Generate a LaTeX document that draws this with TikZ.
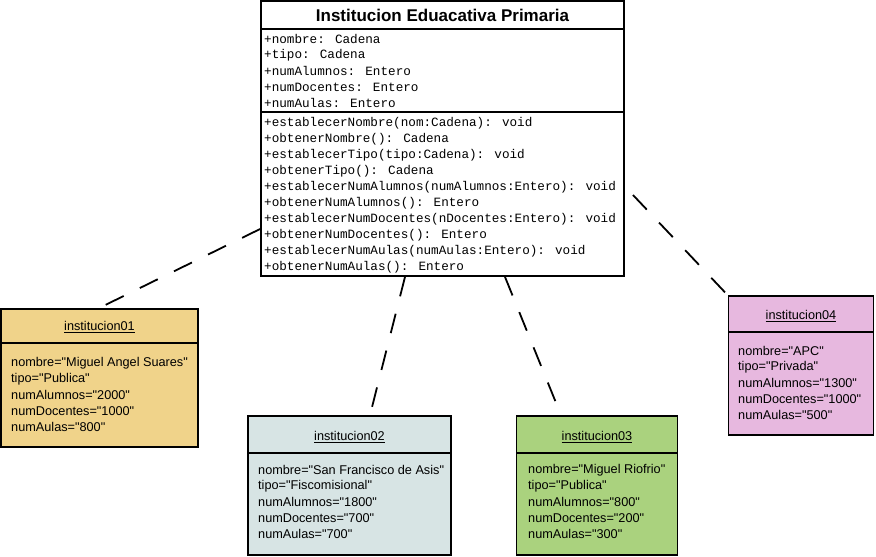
\documentclass[tikz,border=0pt]{standalone}
\usepackage{fontspec}
\setmainfont[Ligatures=NoCommon]{Liberation Sans}
\newfontfamily\monof{Liberation Mono}
\definecolor{cOne}{HTML}{F0D38A}
\definecolor{cTwo}{HTML}{D7E4E4}
\definecolor{cThree}{HTML}{AAD27E}
\definecolor{cFour}{HTML}{E7B8DF}
\begin{document}
\begin{tikzpicture}[x=1pt,y=-1pt,
  boxline/.style={line width=1.8pt},
  mono/.style={anchor=west,inner sep=0pt,font=\monof\fontsize{12.65}{14}\selectfont},
  attr/.style={anchor=west,inner sep=0pt,font=\fontsize{12.7}{14}\selectfont},
  objtitle/.style={inner sep=0pt,font=\fontsize{12.7}{14}\selectfont},
  link/.style={line width=1.8pt,dash pattern=on 20pt off 18pt}]
\useasboundingbox (0,0) rectangle (876,557);
% class
\node[draw,boxline,fill=white,minimum width=363pt,minimum height=275pt,inner sep=0pt] (cls) at (442.5,138.5) {};
\draw[line width=1.5pt] (261,29) -- (624,29);
\draw[line width=1.5pt] (261,112) -- (624,112);
\node[inner sep=0pt,font=\bfseries\fontsize{17}{19}\selectfont] (ttl) at (442.5,15) {Institucion Eduacativa Primaria};
\foreach \t [count=\i from 0] in {{+nombre: Cadena},{+tipo: Cadena},{+numAlumnos: Entero},{+numDocentes: Entero},{+numAulas: Entero}}
  \node[mono] (a\i) at (264,39+16*\i) {\t};
\foreach \t [count=\i from 0] in {{+establecerNombre(nom:Cadena): void},{+obtenerNombre(): Cadena},{+establecerTipo(tipo:Cadena): void},{+obtenerTipo(): Cadena},{+establecerNumAlumnos(numAlumnos:Entero): void},{+obtenerNumAlumnos(): Entero},{+establecerNumDocentes(nDocentes:Entero): void},{+obtenerNumDocentes(): Entero},{+establecerNumAulas(numAulas:Entero): void},{+obtenerNumAulas(): Entero}}
  \node[mono] (m\i) at (264,123+16*\i) {\t};
% inst01
\node[draw,boxline,fill=cOne,minimum width=197pt,minimum height=138pt,inner sep=0pt] (o1) at (99.5,378) {};
\draw[line width=1.5pt] (1,343) -- (198,343);
\node[objtitle] (o1t) at (99.5,327) {\underline{institucion01}};
\foreach \t [count=\i from 0] in {{nombre=\textquotedbl Miguel Angel Suares\textquotedbl},{tipo=\textquotedbl Publica\textquotedbl},{numAlumnos=\textquotedbl 2000\textquotedbl},{numDocentes=\textquotedbl 1000\textquotedbl},{numAulas=\textquotedbl 800\textquotedbl}}
  \node[attr] (o1a\i) at (11,363+16*\i) {\t};
% inst02
\node[draw,boxline,fill=cTwo,minimum width=203pt,minimum height=139pt,inner sep=0pt] (o2) at (349.5,485.5) {};
\draw[line width=1.5pt] (248,453) -- (451,453);
\node[objtitle] (o2t) at (349.5,437) {\underline{institucion02}};
\foreach \t [count=\i from 0] in {{nombre=\textquotedbl San Francisco de Asis\textquotedbl},{tipo=\textquotedbl Fiscomisional\textquotedbl},{numAlumnos=\textquotedbl 1800\textquotedbl},{numDocentes=\textquotedbl 700\textquotedbl},{numAulas=\textquotedbl 700\textquotedbl}}
  \node[attr] (o2a\i) at (258,470+16*\i) {\t};
% inst03
\node[draw,boxline,fill=cThree,minimum width=161pt,minimum height=139pt,inner sep=0pt] (o3) at (597,485.5) {};
\draw[line width=1.5pt] (516.5,453) -- (677.5,453);
\node[objtitle] (o3t) at (597,437) {\underline{institucion03}};
\foreach \t [count=\i from 0] in {{nombre=\textquotedbl Miguel Riofrio\textquotedbl},{tipo=\textquotedbl Publica\textquotedbl},{numAlumnos=\textquotedbl 800\textquotedbl},{numDocentes=\textquotedbl 200\textquotedbl},{numAulas=\textquotedbl 300\textquotedbl}}
  \node[attr] (o3a\i) at (528,470+16*\i) {\t};
% inst04
\node[draw,boxline,fill=cFour,minimum width=145pt,minimum height=139pt,inner sep=0pt] (o4) at (801,365.5) {};
\draw[line width=1.5pt] (728.5,332) -- (873.5,332);
\node[objtitle] (o4t) at (801,316) {\underline{institucion04}};
\foreach \t [count=\i from 0] in {{nombre=\textquotedbl APC\textquotedbl},{tipo=\textquotedbl Privada\textquotedbl},{numAlumnos=\textquotedbl 1300\textquotedbl},{numDocentes=\textquotedbl 1000\textquotedbl},{numAulas=\textquotedbl 500\textquotedbl}}
  \node[attr] (o4a\i) at (738,351+16*\i) {\t};
% links
\coordinate (c4) at (633,195);
\draw[link] (cls.west |- 0,229) -- (o1.north -| 99,0);
\draw[link] (cls.south -| 405,0) -- (o2.north -| 370,0);
\draw[link] (cls.south -| 505,0) -- (o3.north -| 561,0);
\draw[link] (c4) -- (o4.north west);
\end{tikzpicture}
\end{document}
